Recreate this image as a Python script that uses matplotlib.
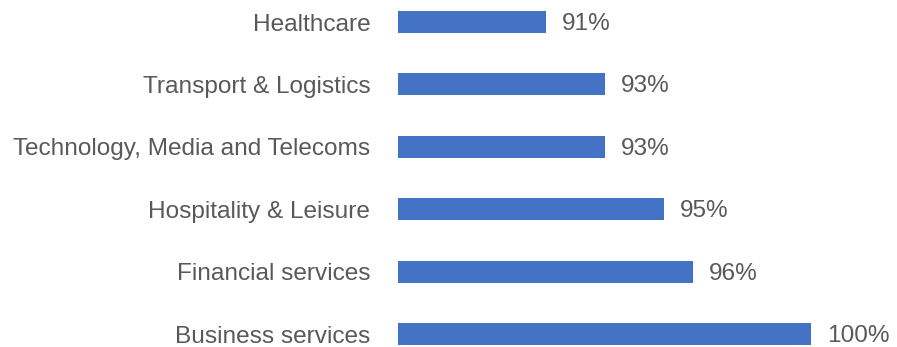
import matplotlib
matplotlib.use('Agg')
import matplotlib.pyplot as plt

# sector share, listed top to bottom
sectors = ['Healthcare', 'Transport & Logistics', 'Technology, Media and Telecoms',
           'Hospitality & Leisure', 'Financial services', 'Business services']
shares = [91, 93, 93, 95, 96, 100]

BAR_COLOR = '#4472C4'
TEXT_COLOR = '#595959'
FS = 17.6

plt.rcParams['font.family'] = ['Liberation Sans', 'DejaVu Sans']

fig = plt.figure(figsize=(8.97, 3.47), dpi=100)
ax = fig.add_axes([398 / 897, 0, (840.5 - 398) / 897, 1])

ypos = list(range(len(sectors)))
ax.barh(ypos, shares, height=0.3526, left=0, color=BAR_COLOR)
ax.set_xlim(86, 101)
ax.set_ylim(5.208, -0.3526)

ax.set_yticks(ypos)
ax.set_yticklabels(sectors, fontsize=FS, color=TEXT_COLOR)
ax.tick_params(axis='y', length=0, pad=20)
ax.set_xticks([])
for s in ax.spines.values():
    s.set_visible(False)

for y, v in zip(ypos, shares):
    ax.annotate(f'{v}%', xy=(v, y), xytext=(11.5, -1.5), textcoords='offset points',
                ha='left', va='center', fontsize=FS, color=TEXT_COLOR,
                annotation_clip=False)

fig.savefig('out.png', dpi=100)
